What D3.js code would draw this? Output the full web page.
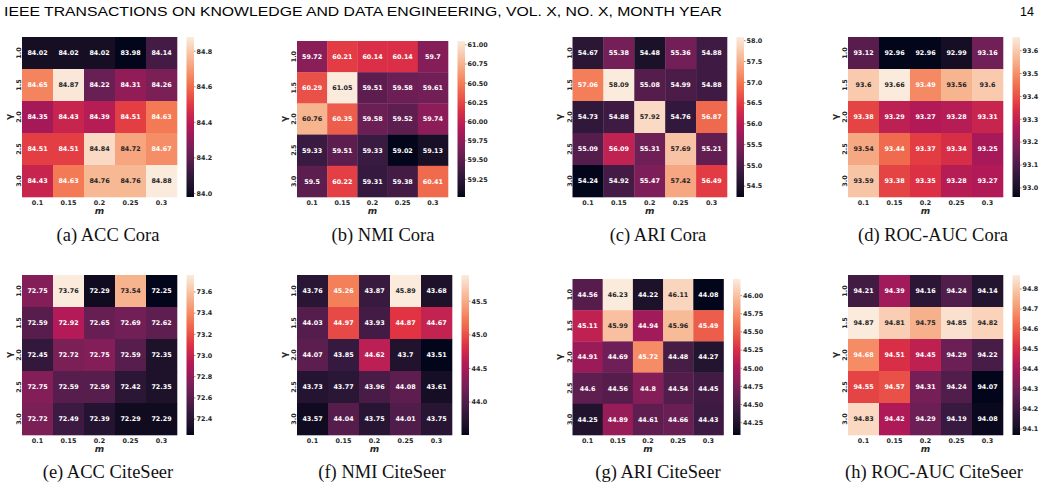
<!DOCTYPE html>
<html>
<head>
<meta charset="utf-8">
<script src="https://d3js.org/d3.v7.min.js"></script>
<style>
body { margin: 0; background: #fff; }
svg { display: block; }
.ann, .tick { font-family: "DejaVu Sans", sans-serif; font-weight: bold; }
.cap { font-family: "Liberation Serif", serif; }
.head { font-family: "Liberation Sans", sans-serif; }
</style>
</head>
<body>
<svg></svg>
<script>
// axis categories
const mValues = ["0.1", "0.15", "0.2", "0.25", "0.3"];
const gammaValues = ["1.0", "1.5", "2.0", "2.5", "3.0"];

// rows = gamma, cols = m
const accCora = [
  [84.02, 84.02, 84.02, 83.98, 84.14],
  [84.65, 84.87, 84.22, 84.31, 84.26],
  [84.35, 84.43, 84.39, 84.51, 84.63],
  [84.51, 84.51, 84.84, 84.72, 84.67],
  [84.43, 84.63, 84.76, 84.76, 84.88]
];
const nmiCora = [
  [59.72, 60.21, 60.14, 60.14, 59.7],
  [60.29, 61.05, 59.51, 59.58, 59.61],
  [60.76, 60.35, 59.58, 59.52, 59.74],
  [59.33, 59.51, 59.33, 59.02, 59.13],
  [59.5, 60.22, 59.31, 59.38, 60.41]
];
const ariCora = [
  [54.67, 55.38, 54.48, 55.36, 54.88],
  [57.06, 58.09, 55.08, 54.99, 54.88],
  [54.73, 54.88, 57.92, 54.76, 56.87],
  [55.09, 56.09, 55.31, 57.69, 55.21],
  [54.24, 54.92, 55.47, 57.42, 56.49]
];
const rocCora = [
  [93.12, 92.96, 92.96, 92.99, 93.16],
  [93.6, 93.66, 93.49, 93.56, 93.6],
  [93.38, 93.29, 93.27, 93.28, 93.31],
  [93.54, 93.44, 93.37, 93.34, 93.25],
  [93.59, 93.38, 93.35, 93.28, 93.27]
];
const accCiteSeer = [
  [72.75, 73.76, 72.29, 73.54, 72.25],
  [72.59, 72.92, 72.65, 72.69, 72.62],
  [72.45, 72.72, 72.75, 72.59, 72.35],
  [72.75, 72.59, 72.59, 72.42, 72.35],
  [72.72, 72.49, 72.39, 72.29, 72.29]
];
const nmiCiteSeer = [
  [43.76, 45.26, 43.87, 45.89, 43.68],
  [44.03, 44.97, 43.93, 44.87, 44.67],
  [44.07, 43.85, 44.62, 43.7, 43.51],
  [43.73, 43.77, 43.96, 44.08, 43.61],
  [43.57, 44.04, 43.75, 44.01, 43.75]
];
const ariCiteSeer = [
  [44.56, 46.23, 44.22, 46.11, 44.08],
  [45.11, 45.99, 44.94, 45.96, 45.49],
  [44.91, 44.69, 45.72, 44.48, 44.27],
  [44.6, 44.56, 44.8, 44.54, 44.45],
  [44.25, 44.89, 44.61, 44.66, 44.43]
];
const rocCiteSeer = [
  [94.21, 94.39, 94.16, 94.24, 94.14],
  [94.87, 94.81, 94.75, 94.85, 94.82],
  [94.68, 94.51, 94.45, 94.29, 94.22],
  [94.55, 94.57, 94.31, 94.24, 94.07],
  [94.83, 94.42, 94.29, 94.19, 94.08]
];

// colorbar tick labels
const accCoraTicks = ["84.0", "84.2", "84.4", "84.6", "84.8"];
const nmiCoraTicks = ["59.25", "59.50", "59.75", "60.00", "60.25", "60.50", "60.75", "61.00"];
const ariCoraTicks = ["54.5", "55.0", "55.5", "56.0", "56.5", "57.0", "57.5", "58.0"];
const rocCoraTicks = ["93.0", "93.1", "93.2", "93.3", "93.4", "93.5", "93.6"];
const accCiteSeerTicks = ["72.4", "72.6", "72.8", "73.0", "73.2", "73.4", "73.6"];
const nmiCiteSeerTicks = ["44.0", "44.5", "45.0", "45.5"];
const ariCiteSeerTicks = ["44.25", "44.50", "44.75", "45.00", "45.25", "45.50", "45.75", "46.00"];
const rocCiteSeerTicks = ["94.1", "94.2", "94.3", "94.4", "94.5", "94.6", "94.7", "94.8"];

const captions = ["(a) ACC Cora", "(b) NMI Cora", "(c) ARI Cora", "(d) ROC-AUC Cora",
  "(e) ACC CiteSeer", "(f) NMI CiteSeer", "(g) ARI CiteSeer", "(h) ROC-AUC CiteSeer"];

const panels = [
  { data: accCora, ticks: accCoraTicks },
  { data: nmiCora, ticks: nmiCoraTicks },
  { data: ariCora, ticks: ariCoraTicks },
  { data: rocCora, ticks: rocCoraTicks },
  { data: accCiteSeer, ticks: accCiteSeerTicks },
  { data: nmiCiteSeer, ticks: nmiCiteSeerTicks },
  { data: ariCiteSeer, ticks: ariCiteSeerTicks },
  { data: rocCiteSeer, ticks: rocCiteSeerTicks }
];

// where each subfigure sits on the page
const layout = [
  { x: 22, y: 37, w: 155, h: 160, cb: 186.5, cx: 108, cy: 241 },
  { x: 297, y: 41, w: 151, h: 156, cb: 457.5, cx: 383, cy: 241 },
  { x: 572.5, y: 37, w: 154.5, h: 160, cb: 736.5, cx: 658, cy: 241 },
  { x: 848, y: 37, w: 155, h: 160, cb: 1012.5, cx: 933, cy: 241 },
  { x: 22, y: 275, w: 155, h: 160, cb: 186.5, cx: 108, cy: 478 },
  { x: 297, y: 275, w: 155, h: 160, cb: 461.5, cx: 382, cy: 478 },
  { x: 572.5, y: 279, w: 151, h: 156, cb: 733, cx: 658, cy: 478 },
  { x: 848, y: 275, w: 155, h: 160, cb: 1012.5, cx: 934, cy: 478 }
];

// seaborn "rocket"
const rocketStops = ["#03051a", "#35193e", "#701f57", "#ad1759", "#e13342", "#f37651", "#f6b48f", "#faebdd"];
const rocket = d3.scaleLinear()
  .domain(d3.range(rocketStops.length).map(i => i / (rocketStops.length - 1)))
  .range(rocketStops)
  .interpolate(d3.interpolateLab);

const lum = c => {
  const rgb = d3.rgb(c);
  const f = v => { v /= 255; return v <= 0.03928 ? v / 12.92 : Math.pow((v + 0.055) / 1.055, 2.4); };
  return 0.2126 * f(rgb.r) + 0.7152 * f(rgb.g) + 0.0722 * f(rgb.b);
};

const width = 1043, height = 490;
const svg = d3.select("svg").attr("width", width).attr("height", height);
const defs = svg.append("defs");

// page header
svg.append("text").attr("class", "head")
  .attr("x", 4).attr("y", 16)
  .attr("font-size", 12.5)
  .attr("textLength", 718).attr("lengthAdjust", "spacingAndGlyphs")
  .text("IEEE TRANSACTIONS ON KNOWLEDGE AND DATA ENGINEERING, VOL. X, NO. X, MONTH YEAR");
svg.append("text").attr("class", "head")
  .attr("x", 1034).attr("y", 16).attr("text-anchor", "end")
  .attr("font-size", 12.5)
  .text("14");

panels.forEach((p, pi) => {
  const L = layout[pi];
  const g = svg.append("g");
  const flat = p.data.flat();
  const lo = d3.min(flat), hi = d3.max(flat);
  const color = v => rocket((v - lo) / (hi - lo));

  const x = d3.scaleBand().domain(mValues).range([L.x, L.x + L.w]);
  const y = d3.scaleBand().domain(gammaValues).range([L.y, L.y + L.h]);

  const cells = [];
  p.data.forEach((row, ri) => row.forEach((v, ci) => cells.push({ g: gammaValues[ri], m: mValues[ci], v })));

  g.selectAll("rect.cell").data(cells).enter().append("rect")
    .attr("class", "cell")
    .attr("x", d => x(d.m)).attr("y", d => y(d.g))
    .attr("width", x.bandwidth() + 0.3).attr("height", y.bandwidth() + 0.3)
    .attr("fill", d => color(d.v));

  g.selectAll("text.ann").data(cells).enter().append("text")
    .attr("class", "ann")
    .attr("x", d => x(d.m) + x.bandwidth() / 2)
    .attr("y", d => y(d.g) + y.bandwidth() / 2 + 2.3)
    .attr("text-anchor", "middle")
    .attr("font-size", 6.4)
    .attr("fill", d => lum(color(d.v)) > 0.408 ? "#262626" : "#ffffff")
    .text(d => d.v);

  // x tick labels
  g.selectAll("text.xt").data(mValues).enter().append("text")
    .attr("class", "tick")
    .attr("x", d => x(d) + x.bandwidth() / 2)
    .attr("y", L.y + L.h + 8)
    .attr("text-anchor", "middle").attr("font-size", 6.4).attr("fill", "#262626")
    .text(d => d);
  g.append("text")
    .attr("x", L.x + L.w / 2).attr("y", L.y + L.h + 16.5)
    .attr("text-anchor", "middle")
    .attr("font-family", "DejaVu Sans").attr("font-style", "italic").attr("font-weight", "bold")
    .attr("font-size", 9).attr("fill", "#262626")
    .text("m");

  // y tick labels (rotated)
  g.selectAll("text.yt").data(gammaValues).enter().append("text")
    .attr("class", "tick")
    .attr("transform", d => `translate(${L.x - 1},${y(d) + y.bandwidth() / 2}) rotate(-90)`)
    .attr("text-anchor", "middle").attr("font-size", 6.4).attr("fill", "#262626")
    .text(d => d);
  g.append("text")
    .attr("transform", `translate(${L.x - 10.5},${L.y + L.h / 2}) rotate(-90)`)
    .attr("text-anchor", "middle")
    .attr("font-family", "DejaVu Sans").attr("font-weight", "bold")
    .attr("font-size", 9).attr("fill", "#262626")
    .text("γ");

  // colorbar
  const gid = "grad" + pi;
  const grad = defs.append("linearGradient").attr("id", gid)
    .attr("x1", 0).attr("y1", 1).attr("x2", 0).attr("y2", 0);
  d3.range(0, 1.0001, 0.05).forEach(t => {
    grad.append("stop").attr("offset", t).attr("stop-color", rocket(t));
  });
  const cbw = 7.5;
  g.append("rect")
    .attr("x", L.cb).attr("y", L.y).attr("width", cbw).attr("height", L.h)
    .attr("fill", `url(#${gid})`);
  const cy = d3.scaleLinear().domain([lo, hi]).range([L.y + L.h, L.y]);
  const cbAxis = g.append("g");
  p.ticks.forEach(t => {
    const ty = cy(+t);
    cbAxis.append("line")
      .attr("x1", L.cb + cbw).attr("x2", L.cb + cbw + 1.5)
      .attr("y1", ty).attr("y2", ty)
      .attr("stroke", "#262626").attr("stroke-width", 0.5);
    cbAxis.append("text").attr("class", "tick")
      .attr("x", L.cb + cbw + 2.5).attr("y", ty + 2.3)
      .attr("font-size", 6.4).attr("fill", "#262626")
      .text(t);
  });

  // caption
  svg.append("text").attr("class", "cap")
    .attr("x", L.cx).attr("y", L.cy)
    .attr("text-anchor", "middle").attr("font-size", 18.5).attr("fill", "#111")
    .text(captions[pi]);
});
</script>
</body>
</html>
